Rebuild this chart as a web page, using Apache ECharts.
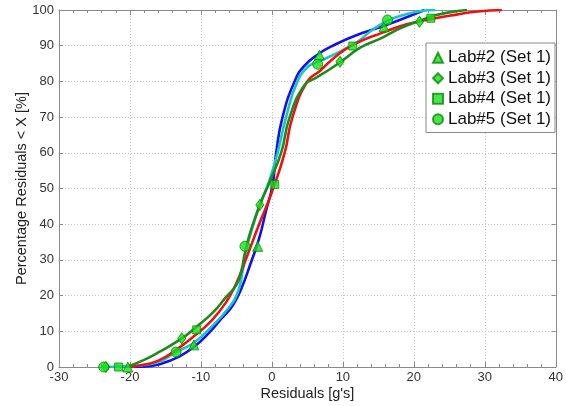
<!DOCTYPE html>
<html><head><meta charset="utf-8">
<script src="https://cdn.jsdelivr.net/npm/echarts@6/dist/echarts.min.js"></script>
<style>html,body{margin:0;padding:0;background:#fff}#c{width:566px;height:406px}</style>
</head><body><div id="c"></div>
<script>
// Fitted curves [residual, percentage]
const blueLine = [[-22,0],[-18,0.1],[-15.5,1],[-13,3],[-11,5.6],[-9,9.3],[-7,13.8],[-5.5,17.3],[-4.3,22],[-3,29],[-1.8,36],[-0.8,44],[0.1,51],[0.6,60],[1.5,70],[3.2,80],[4.5,84.2],[6.5,87.6],[9,90.4],[12,93],[15,95],[18,97.2],[21.5,100]];
const cyanLine = [[-23.7,0],[-20,0.2],[-17.5,0.7],[-15.5,1.8],[-13.5,4.2],[-11,6.8],[-8.5,11.3],[-6,16.8],[-4.8,21],[-4.2,26],[-3.7,32],[-2.6,40],[-1.5,46.5],[-0.4,52],[0.8,60],[2.0,70],[3.6,80],[5.2,84.3],[6.5,85.5],[8.1,86.9],[10,88.8],[12,91],[14,94.2],[16.3,97],[18.5,98.6],[21,99.7],[23,100]];
const redLine = [[-20.5,0],[-18.5,0.5],[-16,1.8],[-13.5,4.8],[-11,8.6],[-8.5,13],[-6.5,18],[-5,23.5],[-3.6,30.5],[-1.8,40],[0,49],[1.8,60],[2.9,70],[5,80],[6.8,83],[9,87],[11.5,90.3],[15.5,93.6],[19,96],[22.5,97.5],[26,98.7],[29,99.6],[32.4,100]];
const greenLine = [[-20.5,0],[-18,2],[-15.8,4.3],[-12.7,8],[-10.6,11.3],[-8.3,15.3],[-6.5,19.5],[-5,23],[-4.3,27],[-3.8,32],[-3.3,36],[-2.5,41],[-1.7,45.4],[-0.4,51.5],[1.3,60],[2.5,70],[4.6,79],[6.2,81],[8,83.2],[9.7,85.5],[12.5,89.5],[15.5,92.2],[18,94.8],[20.7,96.9],[23,98.5],[25.5,99.5],[27.5,100]];
// Measured points
const lab2 = [[-20.3,0],[-11,6.2],[-2.0,33.8],[6.7,87.4],[15.8,95.3]];
const lab3 = [[-23.4,0],[-12.7,8],[-1.7,45.4],[9.6,85.5],[20.8,96.7]];
const lab4 = [[-21.6,0],[-10.6,10.4],[0.4,51.1],[11.4,89.9],[22.4,97.7]];
const lab5 = [[-23.7,0],[-13.5,4.2],[-3.8,33.8],[6.45,84.8],[16.3,97.2]];
const labNames = ['Lab#2 (Set 1)','Lab#3 (Set 1)','Lab#4 (Set 1)','Lab#5 (Set 1)'];
const xTicks = [-30,40,10];
const yTicks = [0,100,10];

const FONT = '"Liberation Sans", Arial, sans-serif';
const axisCol = '#8a8a8a';
const mFill = '#19e019', mEdge = '#0a8a0a';

function lineS(data, color){
  return {type:'line', data, smooth:0.5, showSymbol:false, symbol:'none',
    lineStyle:{color, width:2.6}, z:2, silent:true};
}
function markS(name, data, symbol, size){
  return {type:'scatter', name, data, symbol, symbolSize:size,
    itemStyle:{color:mFill, borderColor:mEdge, borderWidth:1}, z:5};
}
const xBase = {type:'value', min:xTicks[0], max:xTicks[1], interval:xTicks[2]};
const yBase = {type:'value', min:yTicks[0], max:yTicks[1], interval:yTicks[2]};
const aLine = {show:true, onZero:false, lineStyle:{color:axisCol}};
const option = {
  animation:false,
  textStyle:{fontFamily:FONT},
  grid:{left:59, right:9, top:10, bottom:39, containLabel:false},
  xAxis:[
    Object.assign({}, xBase, {position:'bottom', name:'Residuals [g\'s]', nameLocation:'middle', nameGap:19, nameMoveOverlap:false,
      nameTextStyle:{fontSize:14.5, color:'#222', fontFamily:FONT},
      axisLine:aLine,
      axisTick:{show:true, inside:true, length:5, lineStyle:{color:axisCol}},
      minorTick:{show:true, splitNumber:5, length:3, lineStyle:{color:axisCol}},
      axisLabel:{fontSize:13, color:'#333', margin:4, fontFamily:FONT},
      splitLine:{show:true, lineStyle:{color:'#c4c4c4', type:[1,2], width:1}}}),
    Object.assign({}, xBase, {position:'top',
      axisLine:aLine,
      axisTick:{show:true, inside:true, length:5, lineStyle:{color:axisCol}},
      minorTick:{show:true, splitNumber:5, length:3, lineStyle:{color:axisCol}},
      axisLabel:{show:false}, splitLine:{show:false}})
  ],
  yAxis:[
    Object.assign({}, yBase, {position:'left', name:'Percentage Residuals < X [%]', nameLocation:'middle', nameGap:30, nameMoveOverlap:false,
      nameTextStyle:{fontSize:14.5, color:'#222', fontFamily:FONT},
      axisLine:aLine,
      axisTick:{show:true, inside:true, length:4, lineStyle:{color:axisCol}},
      axisLabel:{fontSize:13, color:'#333', margin:5, fontFamily:FONT},
      splitLine:{show:true, lineStyle:{color:'#c4c4c4', type:[1,2], width:1}}}),
    Object.assign({}, yBase, {position:'right',
      axisLine:aLine,
      axisTick:{show:true, inside:true, length:4, lineStyle:{color:axisCol}},
      axisLabel:{show:false}, splitLine:{show:false}})
  ],
  legend:{
    data:[{name:labNames[0], icon:'triangle'},{name:labNames[1], icon:'diamond'},{name:labNames[2], icon:'rect'},{name:labNames[3], icon:'circle'}],
    orient:'vertical', left:426, top:43,
    backgroundColor:'#fff', borderColor:'#8a8a8a', borderWidth:1,
    padding:[4.5,4,3,6], itemGap:0, itemWidth:10, itemHeight:10,
    textStyle:{fontSize:17, color:'#111', fontFamily:FONT, lineHeight:20.5}
  },
  series:[
    lineS(blueLine,'#1010f0'),
    lineS(cyanLine,'#1cc4c4'),
    lineS(redLine,'#f01010'),
    lineS(greenLine,'#1e8a1e'),
    markS(labNames[0], lab2, 'triangle', 10),
    markS(labNames[1], lab3, 'diamond', [8,11]),
    markS(labNames[2], lab4, 'rect', 8),
    markS(labNames[3], lab5, 'circle', 10)
  ]
};
echarts.init(document.getElementById('c'), null, {renderer:'canvas'}).setOption(option);
</script></body></html>
